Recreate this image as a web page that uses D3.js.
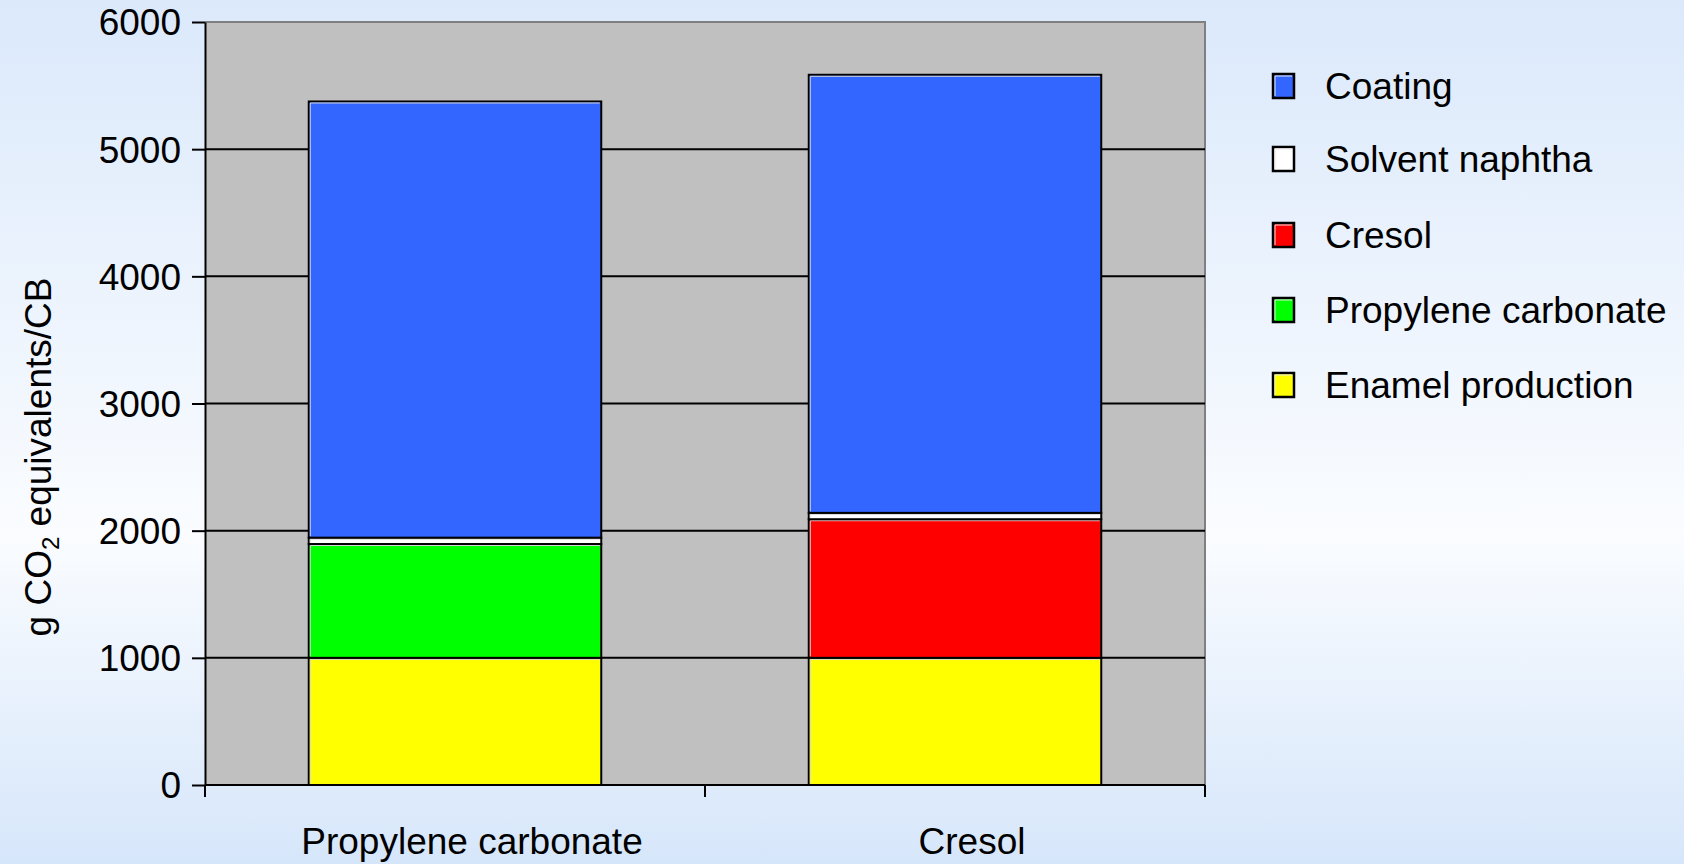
<!DOCTYPE html>
<html>
<head>
<meta charset="utf-8">
<script src="https://cdn.jsdelivr.net/npm/d3@7"></script>
<style>
  html, body { margin: 0; padding: 0; }
  body { width: 1684px; height: 864px; overflow: hidden; }
  svg { display: block; }
  text { font-family: "Liberation Sans", Arial, sans-serif; fill: #000; }
</style>
</head>
<body>
<svg id="chart" width="1684" height="864"></svg>
<script>
// Greenhouse gas contributions per CB, stacked by source
const categories = ["Propylene carbonate", "Cresol"];
const seriesNames = ["Enamel production", "Propylene carbonate", "Cresol", "Solvent naphtha", "Coating"];
const enamelProduction = [1000, 1000];
const propyleneCarbonate = [895, 0];
const cresol = [0, 1090];
const solventNaphtha = [50, 50];
const coating = [3430, 3445];
const yTicks = [0, 1000, 2000, 3000, 4000, 5000, 6000];
const legendOrder = ["Coating", "Solvent naphtha", "Cresol", "Propylene carbonate", "Enamel production"];
const seriesColors = {
  "Enamel production": "#FFFF00",
  "Propylene carbonate": "#00FF00",
  "Cresol": "#FF0000",
  "Solvent naphtha": "#FFFFFF",
  "Coating": "#3366FF"
};

const seriesValues = [enamelProduction, propyleneCarbonate, cresol, solventNaphtha, coating];
const rows = categories.map((c, i) => {
  const r = { category: c };
  seriesNames.forEach((s, k) => { r[s] = seriesValues[k][i]; });
  return r;
});

const svg = d3.select("#chart");
const W = 1684, H = 864;
const plot = { left: 205, right: 1205, top: 22, bottom: 785 };
const FONT = 37;

// page background
const defs = svg.append("defs");
const bg = defs.append("linearGradient").attr("id", "bg").attr("x1", 0).attr("y1", 0).attr("x2", 0).attr("y2", 1);
bg.append("stop").attr("offset", "0%").attr("stop-color", "#DBE9FB");
bg.append("stop").attr("offset", "62%").attr("stop-color", "#FAFCFF");
bg.append("stop").attr("offset", "100%").attr("stop-color", "#D6E6FA");
svg.append("rect").attr("width", W).attr("height", H).attr("fill", "url(#bg)");

const x = d3.scaleBand().domain(categories).range([plot.left, plot.right])
  .paddingInner(0.415).paddingOuter(0.2075);
const y = d3.scaleLinear().domain([0, 6000]).range([plot.bottom, plot.top]);

// plot area
svg.append("rect")
  .attr("x", plot.left).attr("y", plot.top)
  .attr("width", plot.right - plot.left).attr("height", plot.bottom - plot.top)
  .attr("fill", "#C0C0C0");
svg.append("path")
  .attr("d", `M${plot.left},${plot.top}H${plot.right}V${plot.bottom}`)
  .attr("fill", "none").attr("stroke", "#808080").attr("stroke-width", 2);

// gridlines
svg.append("g").selectAll("line").data(yTicks.filter(t => t > 0 && t < 6000)).join("line")
  .attr("x1", plot.left).attr("x2", plot.right)
  .attr("y1", d => y(d)).attr("y2", d => y(d))
  .attr("stroke", "#000").attr("stroke-width", 2);

// stacked bars
const stack = d3.stack().keys(seriesNames)(rows);
const bars = svg.append("g");
stack.forEach(layer => {
  const name = layer.key;
  layer.forEach(seg => {
    if (seg[1] - seg[0] <= 0) return;
    const x0 = x(seg.data.category), bw = x.bandwidth();
    const yTop = y(seg[1]), yBot = y(seg[0]);
    bars.append("rect")
      .attr("x", x0).attr("y", yTop)
      .attr("width", bw).attr("height", yBot - yTop)
      .attr("fill", seriesColors[name])
      .attr("stroke", "#000").attr("stroke-width", 2);
    // light bevel inside top and left edges
    bars.append("path")
      .attr("d", `M${x0 + 1.5},${yBot - 1.5}V${yTop + 1.5}H${x0 + bw - 1.5}`)
      .attr("fill", "none").attr("stroke", "#D8D8D8").attr("stroke-width", 1);
  });
});

// y axis
const yAxis = svg.append("g").attr("transform", `translate(${plot.left},0)`)
  .call(d3.axisLeft(y).tickValues(yTicks).tickFormat(d3.format("d"))
    .tickSize(13).tickSizeOuter(0).tickPadding(11));
yAxis.select(".domain").attr("stroke", "#000").attr("stroke-width", 2);
yAxis.selectAll(".tick line").attr("stroke", "#000").attr("stroke-width", 2);
yAxis.selectAll(".tick text").attr("font-size", FONT).attr("font-family", "Liberation Sans, Arial, sans-serif").attr("dy", "0.35em");

// x axis baseline, boundary ticks and category labels
svg.append("line").attr("x1", plot.left).attr("x2", plot.right)
  .attr("y1", plot.bottom).attr("y2", plot.bottom)
  .attr("stroke", "#000").attr("stroke-width", 2);
const boundaries = d3.range(categories.length + 1).map(i => plot.left + i * (plot.right - plot.left) / categories.length);
svg.append("g").selectAll("line").data(boundaries).join("line")
  .attr("x1", d => d).attr("x2", d => d)
  .attr("y1", plot.bottom).attr("y2", plot.bottom + 12)
  .attr("stroke", "#000").attr("stroke-width", 2);
const xAxis = svg.append("g").attr("transform", `translate(17,${plot.bottom})`)
  .call(d3.axisBottom(x).tickSize(0).tickPadding(0));
xAxis.select(".domain").remove();
xAxis.selectAll(".tick text").attr("font-size", FONT)
  .attr("font-family", "Liberation Sans, Arial, sans-serif")
  .attr("y", 69).attr("dy", 0);

// y axis title
const yTitle = svg.append("text")
  .attr("transform", "translate(51,457) rotate(-90)")
  .attr("text-anchor", "middle").attr("font-size", FONT);
yTitle.append("tspan").text("g CO");
yTitle.append("tspan").attr("font-size", FONT * 0.65).attr("dy", 8).text("2");
yTitle.append("tspan").attr("dy", -8).text(" equivalents/CB");

// legend
const legendRowY = [86, 159, 235, 310, 385];
const legend = svg.append("g");
legendOrder.forEach((name, i) => {
  const cy = legendRowY[i];
  legend.append("rect")
    .attr("x", 1273).attr("y", cy - 12)
    .attr("width", 21).attr("height", 24)
    .attr("fill", seriesColors[name])
    .attr("stroke", "#000").attr("stroke-width", 2.5);
  legend.append("path")
    .attr("d", `M${1275},${cy + 10}V${cy - 10}H${1292}`)
    .attr("fill", "none").attr("stroke", "#E8E8E8").attr("stroke-width", 1);
  legend.append("text")
    .attr("x", 1325).attr("y", cy + 13)
    .attr("font-size", FONT).text(name);
});
</script>
</body>
</html>
